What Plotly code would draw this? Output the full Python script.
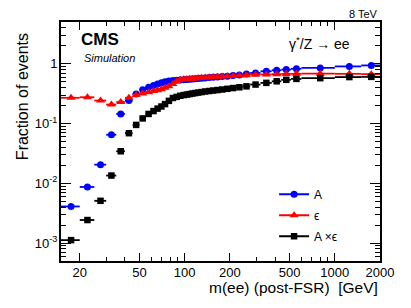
import plotly.graph_objects as go

# bin edges of m(ee) [GeV]
edges = [15, 20, 25, 30, 35, 40, 45, 50, 55, 60, 64, 68, 72, 76, 81, 86, 91, 96, 101, 106,
         110, 115, 120, 126, 133, 141, 150, 160, 171, 185, 200, 220, 243, 273, 320, 380,
         440, 510, 600, 1000, 1500, 2000]

acc = [0.0041, 0.0087, 0.0205, 0.065, 0.145, 0.243, 0.312, 0.368, 0.405, 0.435, 0.46,
       0.48, 0.50, 0.515, 0.525, 0.53, 0.535, 0.54, 0.545, 0.55, 0.555, 0.56, 0.567,
       0.574, 0.58, 0.588, 0.595, 0.603, 0.612, 0.622, 0.635, 0.652, 0.675, 0.705,
       0.75, 0.78, 0.80, 0.825, 0.855, 0.905, 0.94]

eff = [0.27, 0.276, 0.243, 0.208, 0.23, 0.27, 0.30, 0.32, 0.335, 0.35, 0.36, 0.376,
       0.396, 0.42, 0.46, 0.51, 0.54, 0.55, 0.555, 0.56, 0.565, 0.57, 0.577, 0.583,
       0.59, 0.596, 0.602, 0.608, 0.613, 0.62, 0.627, 0.635, 0.645, 0.655, 0.665,
       0.672, 0.678, 0.68, 0.685, 0.68, 0.672]

acc_eff = [0.00112, 0.00243, 0.0051, 0.0135, 0.0344, 0.069, 0.095, 0.122, 0.145, 0.162,
           0.178, 0.193, 0.212, 0.24, 0.268, 0.28, 0.292, 0.30, 0.306, 0.312, 0.318,
           0.324, 0.33, 0.337, 0.344, 0.351, 0.357, 0.364, 0.372, 0.382, 0.393, 0.405,
           0.42, 0.45, 0.48, 0.51, 0.54, 0.56, 0.575, 0.60, 0.605]

x_tickvals = [20, 50, 100, 200, 500, 1000, 2000]
x_ticktext = ["20", "50", "100", "200", "500", "1000", "2000"]
x_minor = [30, 40, 60, 70, 80, 90, 300, 400, 600, 700, 800, 900]
y_tickvals = [0.001, 0.01, 0.1, 1]
y_ticktext = ["10<sup>-3</sup>", "10<sup>-2</sup>", "10<sup>-1</sup>", "1"]
y_minor = [m * 10 ** e for e in range(-4, 1) for m in range(2, 10)]

centers = [(a + b) / 2 for a, b in zip(edges[:-1], edges[1:])]
err_lo = [c - a for c, a in zip(centers, edges[:-1])]
err_hi = [b - c for c, b in zip(centers, edges[1:])]

FONT = "Liberation Sans, Arial, Helvetica, sans-serif"

series = [
    ("A", acc, "#0000ff", "circle", 7),
    ("ϵ", eff, "#ff0000", "triangle-up", 8),
    ("A ×ϵ", acc_eff, "#000000", "square", 6.5),
]

fig = go.Figure()
for i, (name, vals, col, sym, sz) in enumerate(series):
    fig.add_trace(go.Scatter(
        x=centers, y=vals, mode="markers", showlegend=False,
        marker=dict(color=col, symbol=sym, size=sz),
        error_x=dict(type="data", symmetric=False, array=err_hi, arrayminus=err_lo,
                     color=col, thickness=1.8, width=0),
    ))
for i, (name, vals, col, sym, sz) in enumerate(series):
    fig.add_trace(go.Scatter(
        x=[None], y=[None], mode="lines+markers", name=name, legendgroup=str(i),
        marker=dict(color=col, symbol=sym, size=sz), line=dict(color=col, width=2),
    ))

axis_common = dict(
    showline=True, linecolor="black", linewidth=2, mirror="allticks",
    ticks="inside", tickcolor="black", showgrid=False, zeroline=False,
    automargin=False,
    tickfont=dict(family=FONT, size=13, color="black"),
)

fig.update_xaxes(type="log", range=[1.1761, 3.30103],
                 tickmode="array", tickvals=x_tickvals, ticktext=x_ticktext,
                 ticklen=8, tickwidth=1, ticklabelstandoff=-2,
                 minor=dict(tickmode="array", tickvals=x_minor, ticklen=4,
                            ticks="inside", tickcolor="black", showgrid=False),
                 **axis_common)
fig.update_yaxes(type="log", range=[-3.3, 0.7],
                 tickmode="array", tickvals=y_tickvals, ticktext=y_ticktext,
                 ticklen=10, tickwidth=1, ticklabelstandoff=-1,
                 minor=dict(tickmode="array", tickvals=y_minor, ticklen=5,
                            ticks="inside", tickcolor="black", showgrid=False),
                 **axis_common)

fig.update_layout(
    width=411, height=308,
    margin=dict(l=61, r=31, t=22, b=47, autoexpand=False),
    paper_bgcolor="white", plot_bgcolor="white",
    font=dict(family=FONT, color="black"),
    legend=dict(x=0.668, y=0.34, xanchor="left", yanchor="top",
                bgcolor="rgba(0,0,0,0)", font=dict(family=FONT, size=12),
                tracegroupgap=2, itemwidth=30),
    annotations=[
        dict(text="<b>CMS</b>", x=0.055, y=0.975, xref="paper", yref="paper",
             xanchor="left", yanchor="top", showarrow=False,
             font=dict(family=FONT, size=17)),
        dict(text="<i>Simulation</i>", x=0.066, y=0.882, xref="paper", yref="paper",
             xanchor="left", yanchor="top", showarrow=False,
             font=dict(family=FONT, size=11)),
        dict(text="γ<sup>*</sup>/Z → ee", x=0.708, y=0.96, xref="paper", yref="paper",
             xanchor="left", yanchor="top", showarrow=False,
             font=dict(family=FONT, size=14)),
        dict(text="8 TeV", x=1.0, y=1.0, xref="paper", yref="paper",
             xanchor="right", yanchor="bottom", showarrow=False,
             font=dict(family=FONT, size=11)),
        dict(text="Fraction of events", x=-0.122, y=0.96, xref="paper", yref="paper",
             xanchor="center", yanchor="top", textangle=-90, showarrow=False,
             font=dict(family=FONT, size=16)),
        dict(text="m(ee) (post-FSR)  [GeV]", x=1.0, y=-0.11, xref="paper", yref="paper",
             xanchor="right", yanchor="middle", showarrow=False,
             font=dict(family=FONT, size=15.5)),
    ],
)

fig.write_html("out.html", config={"displayModeBar": False},
               post_script="document.body.style.margin='0';")
